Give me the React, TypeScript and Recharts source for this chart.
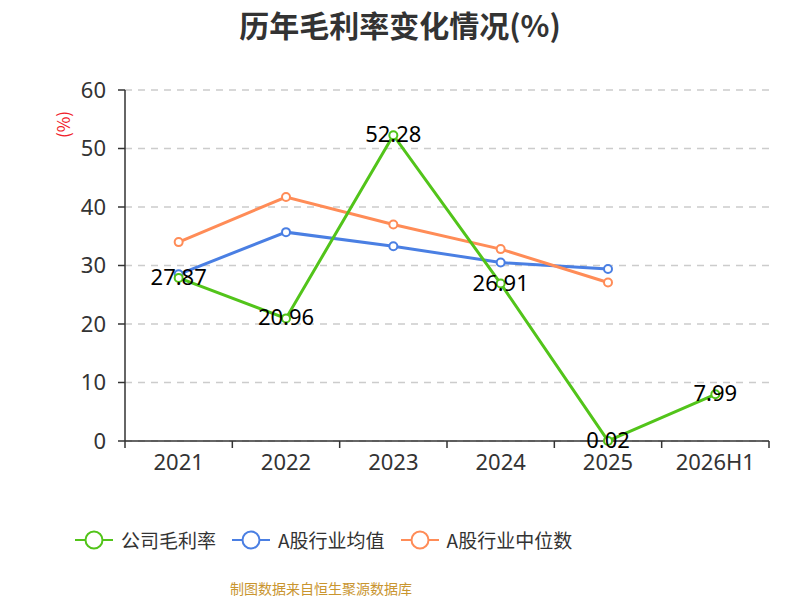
import { LineChart, Line, XAxis, YAxis, CartesianGrid, LabelList } from 'recharts';

const years = ['2021', '2022', '2023', '2024', '2025', '2026H1'];
const companyRate = [27.87, 20.96, 52.28, 26.91, 0.02, 7.99];
const industryAvg = [28.5, 35.7, 33.3, 30.5, 29.4, null];
const industryMedian = [34.0, 41.7, 37.0, 32.8, 27.1, null];
const yTicks = [0, 10, 20, 30, 40, 50, 60];

const SERIES = [
  { key: 'company', name: '公司毛利率', color: '#52c41a' },
  { key: 'avg', name: 'A股行业均值', color: '#4a7fe3' },
  { key: 'median', name: 'A股行业中位数', color: '#ff8c57' },
];

const FONT = '"Noto Sans CJK SC", "Noto Sans", sans-serif';
const NUM_FONT = '"Noto Sans", sans-serif';

const data = years.map((year, i) => ({
  year,
  company: companyRate[i],
  avg: industryAvg[i],
  median: industryMedian[i],
}));

// category ticks at the band edges, like echarts' boundaryGap
function XTick(props: any) {
  const { x, y, payload, index } = props;
  const half = payload?.offset ?? 53.7;
  return (
    <g>
      <line x1={x - half} y1={y} x2={x - half} y2={y + 7} stroke="#333" strokeWidth={1.5} />
      {index === years.length - 1 && (
        <line x1={x + half} y1={y} x2={x + half} y2={y + 7} stroke="#333" strokeWidth={1.5} />
      )}
      <text x={x} y={y + 20} textAnchor="middle" dominantBaseline="central" fill="#333" fontSize={22} fontFamily={NUM_FONT}>
        {payload.value}
      </text>
    </g>
  );
}

function ValueLabel(props: any) {
  const { x, y, value } = props;
  if (value == null) return null;
  return (
    <text x={x} y={y - 2} textAnchor="middle" dominantBaseline="central" fill="#000" fontSize={22} fontFamily={NUM_FONT}>
      {value}
    </text>
  );
}

function LegendIcon({ color }: { color: string }) {
  return (
    <svg width={38} height={20} style={{ display: 'block' }}>
      <line x1={0} y1={10} x2={38} y2={10} stroke={color} strokeWidth={2} />
      <circle cx={19} cy={10} r={8.5} fill="#fff" stroke={color} strokeWidth={2} />
    </svg>
  );
}

export default function App() {
  return (
    <div style={{ position: 'absolute', left: 0, top: 0, width: 800, height: 600, background: '#fff', fontFamily: FONT }}>
      <div style={{ position: 'absolute', top: 2, width: 800, textAlign: 'center', fontSize: 30, fontWeight: 'bold', color: '#333' }}>
        历年毛利率变化情况(%)
      </div>
      <div style={{ position: 'absolute', left: 44, top: 112, width: 36, textAlign: 'center', transform: 'rotate(-90deg)', color: '#f0202a', fontSize: 17 }}>
        (%)
      </div>
      <LineChart width={800} height={600} data={data} margin={{ top: 90, right: 31, left: 0, bottom: 0 }}>
        <CartesianGrid vertical={false} stroke="#ccc" strokeDasharray="7 6" strokeWidth={1.5} />
        <XAxis
          dataKey="year"
          scale="band"
          height={159}
          tickLine={false}
          tickSize={0}
          tickMargin={0}
          axisLine={{ stroke: '#333', strokeWidth: 1.5 }}
          tick={<XTick />}
          interval={0}
        />
        <YAxis
          width={125}
          domain={[0, 60]}
          ticks={yTicks}
          tickSize={7}
          tickMargin={12}
          tickLine={{ stroke: '#333', strokeWidth: 1.5 }}
          axisLine={{ stroke: '#333', strokeWidth: 1.5 }}
          tick={{ fill: '#333', fontSize: 22, fontFamily: NUM_FONT }}
        />
        <Line
          dataKey="avg"
          stroke={SERIES[1].color}
          strokeWidth={3}
          dot={{ r: 4, fill: '#fff', stroke: SERIES[1].color, strokeWidth: 2 }}
          isAnimationActive={false}
        />
        <Line
          dataKey="median"
          stroke={SERIES[2].color}
          strokeWidth={3}
          dot={{ r: 4, fill: '#fff', stroke: SERIES[2].color, strokeWidth: 2 }}
          isAnimationActive={false}
        />
        <Line
          dataKey="company"
          stroke={SERIES[0].color}
          strokeWidth={3}
          dot={{ r: 4, fill: '#fff', stroke: SERIES[0].color, strokeWidth: 2 }}
          isAnimationActive={false}
        >
          <LabelList dataKey="company" content={<ValueLabel />} />
        </Line>
      </LineChart>
      <div style={{ position: 'absolute', top: 526, left: 75, display: 'flex', gap: 16, fontSize: 19, color: '#333' }}>
        {SERIES.map(s => (
          <div key={s.key} style={{ display: 'flex', alignItems: 'center', gap: 8 }}>
            <LegendIcon color={s.color} />
            <span>{s.name}</span>
          </div>
        ))}
      </div>
      <div style={{ position: 'absolute', top: 578, left: 221, width: 200, textAlign: 'center', fontSize: 14, color: '#c9952f' }}>
        制图数据来自恒生聚源数据库
      </div>
    </div>
  );
}
